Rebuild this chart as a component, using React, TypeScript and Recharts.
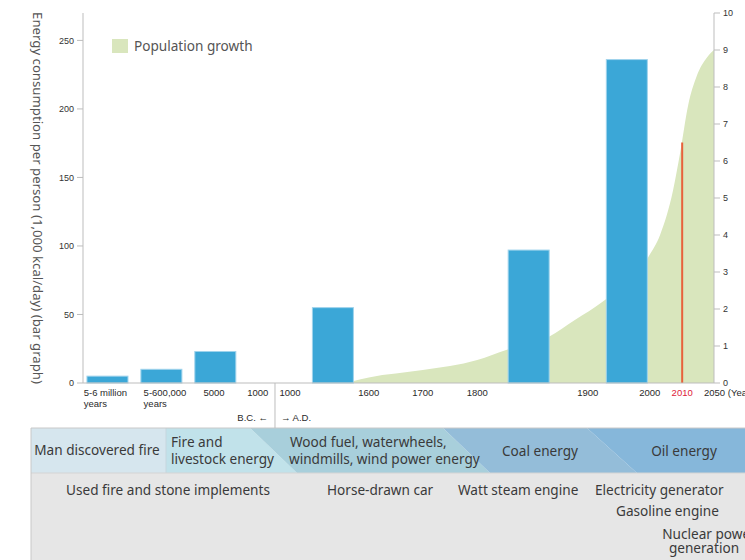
import React from "react";
import {
  Area,
  Bar,
  ComposedChart,
  Label,
  Legend,
  ReferenceLine,
  XAxis,
  YAxis,
} from "recharts";

// timeline is not linear, so everything sits on a "slot" scale 0..117
const tickLabels = [
  "5-6 million|years",
  "5-600,000|years",
  "5000",
  "1000",
  "1000",
  "1600",
  "1700",
  "1800",
  "1900",
  "2000",
  "2010",
  "2050 (Year)",
];
const tickSlots = [4.4, 15.5, 24.3, 32.4, 38.4, 53.0, 63.0, 73.1, 93.6, 105.1, 111.1, 117];
const eraDividerSlot = 35.6;

const barSlots = [4.5, 14.5, 24.5, 46.3, 82.6, 100.8];
const energyPerPerson = [5, 10, 23, 55, 97, 236];

const popSlots = [50, 53, 63, 73.1, 78.6, 86.4, 91.2, 96.4, 104.8, 107, 109.4, 110.7, 112.2, 113.8, 115.7, 117];
const population = [0.05, 0.15, 0.35, 0.62, 0.9, 1.25, 1.7, 2.2, 3.4, 4.0, 5.2, 6.2, 7.5, 8.3, 8.8, 9.0];

const slot2010 = 111.1;
const pop2010 = 6.5;

const leftTicks = [0, 50, 100, 150, 200, 250];
const rightTicks = [0, 1, 2, 3, 4, 5, 6, 7, 8, 9, 10];

const energySources = [
  ["Man discovered fire"],
  ["Fire and", "livestock energy"],
  ["Wood fuel, waterwheels,", "windmills, wind power energy"],
  ["Coal energy"],
  ["Oil energy"],
];
const inventions = [
  ["Used fire and stone implements"],
  ["Horse-drawn car"],
  ["Watt steam engine"],
  ["Electricity generator"],
  ["Gasoline engine"],
  ["Nuclear power", "generation"],
];

const rows = [
  ...barSlots.map((pos, i) => ({ pos, energy: energyPerPerson[i] })),
  ...popSlots.map((pos, i) => ({ pos, pop: population[i] })),
].sort((a, b) => a.pos - b.pos);

const tickFont = "'Liberation Sans', Arial, sans-serif";
const textFont = "'Noto Sans', sans-serif";
const BAR_W = 41;

const TimeTick = (props: any) => {
  const { x, y, payload } = props;
  if (payload.value === eraDividerSlot) {
    return (
      <g fontFamily={tickFont} fontSize={9.5} fill="#2a2a2a">
        <line x1={x} y1={y} x2={x} y2={y + 45} stroke="#bdbdbd" />
        <text x={x - 7} y={y + 38} textAnchor="end">B.C. ←</text>
        <text x={x + 6} y={y + 38} textAnchor="start">→ A.D.</text>
      </g>
    );
  }
  const i = tickSlots.indexOf(payload.value);
  const label = tickLabels[i] ?? "";
  const lines = label.split("|");
  const isRed = label === "2010";
  if (lines.length > 1) {
    return (
      <text x={x - 23} y={y + 13} fontFamily={tickFont} fontSize={9.5} fill="#2a2a2a">
        <tspan x={x - 23}>{lines[0]}</tspan>
        <tspan x={x - 23} dy={11}>{lines[1]}</tspan>
      </text>
    );
  }
  const last = i === tickSlots.length - 1;
  return (
    <text
      x={last ? x - 10 : x}
      y={y + 13}
      textAnchor={last ? "start" : "middle"}
      fontFamily={tickFont}
      fontSize={9.5}
      fill={isRed ? "#e0203a" : "#2a2a2a"}
    >
      {label}
    </text>
  );
};

// wide bars centred on their slot (band size on a number axis is too thin)
const WideBar = (props: any) => {
  const { x, y, width, height } = props;
  if (height == null || height <= 0) return null;
  const cx = x + width / 2;
  return (
    <rect
      x={cx - BAR_W / 2}
      y={y}
      width={BAR_W}
      height={height}
      fill="#3ba7d7"
      stroke="#9fd3ec"
      strokeWidth={1}
    />
  );
};

const LegendBox = () => (
  <div style={{ display: "flex", alignItems: "center", fontFamily: textFont, fontSize: 13.6, color: "#555" }}>
    <span style={{ width: 16, height: 14, background: "#d9e6bd", display: "inline-block", marginRight: 6 }} />
    Population growth
  </div>
);

const YTitle = (props: any) => {
  const { viewBox } = props;
  const cx = viewBox.x + 38;
  const cy = viewBox.y + viewBox.height / 2;
  return (
    <text
      x={cx}
      y={cy}
      transform={`rotate(90, ${cx}, ${cy})`}
      textAnchor="middle"
      dominantBaseline="central"
      fontFamily={textFont}
      fontSize={13.2}
      fill="#555"
    >
      Energy consumption per person (1,000 kcal/day) (bar graph)
    </text>
  );
};

// bands of the timeline table under the chart (top edge x, bottom edge x)
const bandEdges = [
  [31, 31],
  [166, 166],
  [250, 297],
  [443, 490],
  [587, 637],
  [745, 745],
];
const bandColors = ["#d6e6ee", "#c1e2ea", "#a8cfdb", "#94bdd9", "#86b7da"];

const TimelineTable = () => {
  const top = 428;
  const mid = 473;
  const bottom = 560;
  return (
    <svg width={745} height={560} style={{ position: "absolute", left: 0, top: 0 }}>
      <rect x={31} y={mid} width={714} height={bottom - mid} fill="#e6e6e6" />
      {bandColors.map((c, i) => {
        const [a1, b1] = bandEdges[i];
        const [a2, b2] = bandEdges[i + 1];
        return (
          <polygon key={i} points={`${a1},${top} ${a2},${top} ${b2},${mid} ${b1},${mid}`} fill={c} />
        );
      })}
      <line x1={166} y1={top} x2={166} y2={mid} stroke="#c6d6de" />
      <line x1={31} y1={top} x2={745} y2={top} stroke="#c8c8c8" />
      <line x1={31} y1={mid} x2={745} y2={mid} stroke="#d4d4d4" />
      <line x1={31} y1={top} x2={31} y2={bottom} stroke="#c8c8c8" />
      <g fontFamily={textFont} fontSize={13.6} fill="#3a3a3a">
        <text x={97} y={455} textAnchor="middle">{energySources[0][0]}</text>
        <text x={171} y={447}>{energySources[1][0]}</text>
        <text x={171} y={464}>{energySources[1][1]}</text>
        <text x={290} y={447}>{energySources[2][0]}</text>
        <text x={289} y={464}>{energySources[2][1]}</text>
        <text x={540} y={456} textAnchor="middle">{energySources[3][0]}</text>
        <text x={684} y={456} textAnchor="middle">{energySources[4][0]}</text>

        <text x={168} y={495} textAnchor="middle">{inventions[0][0]}</text>
        <text x={327} y={495}>{inventions[1][0]}</text>
        <text x={458} y={495}>{inventions[2][0]}</text>
        <text x={595} y={495}>{inventions[3][0]}</text>
        <text x={616} y={516}>{inventions[4][0]}</text>
        <text x={709} y={539} textAnchor="middle">{inventions[5][0]}</text>
        <text x={704} y={553} textAnchor="middle">{inventions[5][1]}</text>
      </g>
    </svg>
  );
};

export default function App() {
  return (
    <div
      style={{
        position: "absolute",
        left: 0,
        top: 0,
        width: 745,
        height: 560,
        overflow: "hidden",
        background: "#fff",
      }}
    >
      <TimelineTable />
      <div style={{ position: "absolute", left: 0, top: 0 }}>
        <ComposedChart width={745} height={430} data={rows} margin={{ top: 13, right: 0, bottom: 7, left: 0 }}>
          <XAxis
            dataKey="pos"
            type="number"
            domain={[0, 117]}
            ticks={[...tickSlots, eraDividerSlot]}
            interval={0}
            tick={<TimeTick />}
            tickLine={false}
            tickSize={0}
            tickMargin={0}
            height={40}
            axisLine={{ stroke: "#bdbdbd" }}
          />
          <YAxis
            yAxisId="left"
            domain={[0, 270]}
            ticks={leftTicks}
            width={83}
            tick={{ fontSize: 9, fill: "#333", fontFamily: tickFont }}
            tickSize={6}
            tickMargin={3}
            axisLine={{ stroke: "#bdbdbd" }}
            tickLine={{ stroke: "#bdbdbd" }}
          >
            <Label content={<YTitle />} />
          </YAxis>
          <YAxis
            yAxisId="right"
            orientation="right"
            domain={[0, 10]}
            ticks={rightTicks}
            width={31}
            tick={{ fontSize: 9, fill: "#333", fontFamily: tickFont }}
            tickSize={6}
            tickMargin={3}
            axisLine={{ stroke: "#bdbdbd" }}
            tickLine={{ stroke: "#bdbdbd" }}
          />
          <Legend
            layout="horizontal"
            verticalAlign="middle"
            align="center"
            content={<LegendBox />}
            wrapperStyle={{ top: 36, left: 112, width: "auto" }}
          />
          <Area
            yAxisId="right"
            dataKey="pop"
            name="Population growth"
            type="monotone"
            fill="#d9e6bd"
            fillOpacity={1}
            stroke="none"
            connectNulls
            isAnimationActive={false}
          />
          <Bar
            yAxisId="left"
            dataKey="energy"
            shape={<WideBar />}
            isAnimationActive={false}
          />
          <ReferenceLine
            yAxisId="right"
            segment={[
              { x: slot2010, y: 0 },
              { x: slot2010, y: pop2010 },
            ]}
            stroke="#e8613c"
            strokeWidth={2}
          />
        </ComposedChart>
      </div>
    </div>
  );
}
